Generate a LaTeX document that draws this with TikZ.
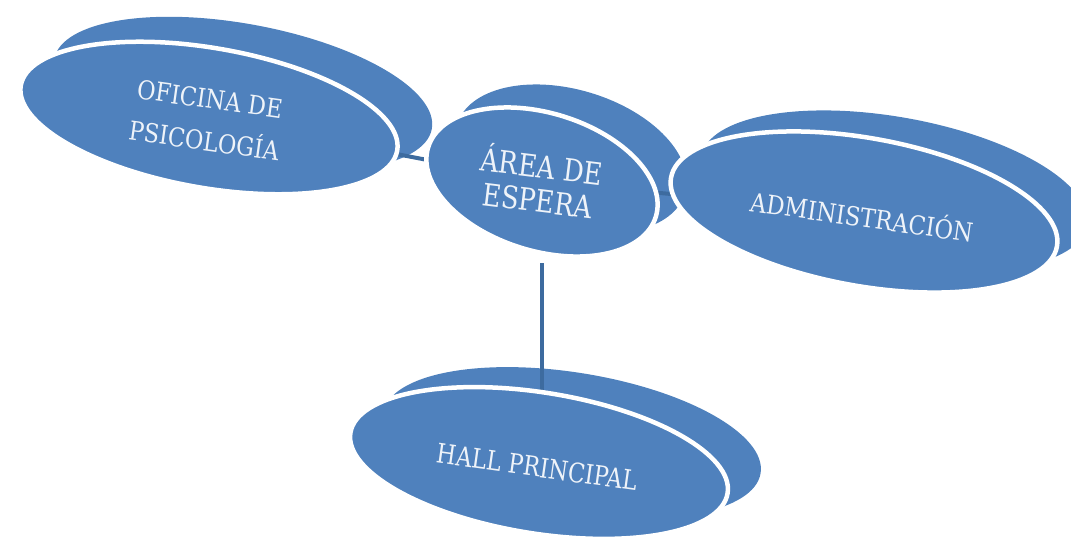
\documentclass[tikz,border=0pt]{standalone}
\usepackage{fontspec}
\setmainfont{DejaVu Serif Condensed}
\usetikzlibrary{shapes.geometric}
\definecolor{ellblue}{HTML}{4F81BD}
\definecolor{connblue}{HTML}{3D6B9F}
\definecolor{txtwhite}{HTML}{EEF3F9}
\tikzset{
  backell/.style={ellipse, fill=ellblue, inner sep=0pt},
  frontell/.style={ellipse, fill=ellblue, draw=white, line width=4.5pt, inner sep=0pt},
  conn/.style={draw=connblue, line width=4pt},
  lbl/.style={text=txtwhite, align=center, inner sep=0pt, transform shape}
}
\begin{document}
\begin{tikzpicture}[x=1pt,y=-1pt]
\useasboundingbox (0,0) rectangle (1071,540);
\clip (0,0) rectangle (1071,540);
% back ellipses
\node[backell, minimum width=384pt, minimum height=140pt, rotate=-10.5] (ofiB) at (243,94) {};
\node[backell, minimum width=238pt, minimum height=138pt, rotate=-16.9] (areaB) at (571,159) {};
\node[backell, minimum width=392pt, minimum height=148pt, rotate=-10.1] (admB) at (894,191) {};
\node[backell, minimum width=382pt, minimum height=141pt, rotate=-9.1] (hallB) at (572,443) {};
% connector anchors (front centres)
\coordinate (ofiC) at (209,118);
\coordinate (areaC) at (542,182);
\coordinate (admC) at (864,212);
\coordinate (hallC) at (542,463);
% connectors
\draw[conn] (ofiC) -- (areaC);
\draw[conn] (areaC) -- (admC);
\draw[conn, shorten <=81pt] (areaC) -- (hallC);
% front ellipses
\node[frontell, minimum width=382pt, minimum height=140pt, rotate=-9.8] (ofi) at (ofiC) {};
\node[frontell, minimum width=238pt, minimum height=138pt, rotate=-16.9] (area) at (areaC) {};
\node[frontell, minimum width=392pt, minimum height=148pt, rotate=-10.1] (adm) at (admC) {};
\node[frontell, minimum width=382pt, minimum height=141pt, rotate=-9.1] (hall) at (539,463) {};
% labels
\node[lbl, rotate=-8, xscale=0.96, font=\fontsize{26}{42}\selectfont] (ofiT) at (207,120) {OFICINA DE\\PSICOLOGÍA};
\node[lbl, rotate=-7, xscale=0.92, font=\fontsize{31}{34}\selectfont] (areaT) at (540,181) {ÁREA DE\\ESPERA};
\node[lbl, rotate=-8, xscale=0.97, font=\fontsize{26}{30}\selectfont] (admT) at (862,215) {ADMINISTRACIÓN};
\node[lbl, rotate=-8, xscale=0.92, font=\fontsize{27}{31}\selectfont] (hallT) at (537,467) {HALL PRINCIPAL};
\end{tikzpicture}
\end{document}
